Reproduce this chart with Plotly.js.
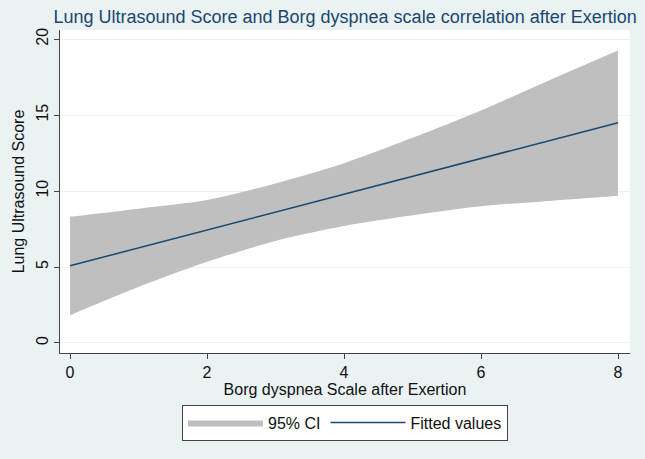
<!DOCTYPE html>
<html>
<head>
<meta charset="utf-8">
<script src="https://cdn.plot.ly/plotly-3.0.1.min.js"></script>
<style>
  html, body { margin: 0; padding: 0; background: #eaf2f3; }
  #chart { width: 645px; height: 459px; }
</style>
</head>
<body>
<div id="chart"></div>
<script>
const borg = [0, 1, 2, 3, 4, 5, 6, 7, 8];
const fitted = [5.08, 6.26, 7.43, 8.61, 9.79, 10.97, 12.14, 13.32, 14.5];
const ciUpper = [8.31, 8.84, 9.41, 10.5, 11.83, 13.5, 15.3, 17.3, 19.25];
const ciLower = [1.83, 3.68, 5.34, 6.72, 7.7, 8.4, 9.0, 9.35, 9.69];

const navy = "#1a476f";
const bandGray = "#bfbfbf";

// lower edge first (hidden), upper edge fills down to it
var lower = {
  x: borg,
  y: ciLower,
  type: "scatter",
  mode: "lines",
  line: { width: 0, color: bandGray, shape: "spline", smoothing: 0.8 },
  showlegend: false,
  hoverinfo: "skip",
};

var upper = {
  x: borg,
  y: ciUpper,
  type: "scatter",
  mode: "lines",
  fill: "tonexty",
  fillcolor: bandGray,
  line: { width: 0, color: bandGray, shape: "spline", smoothing: 0.8 },
  name: "95% CI",
  legendrank: 1,
  hoverinfo: "skip",
};

var fit = {
  x: borg,
  y: fitted,
  type: "scatter",
  mode: "lines",
  line: { color: navy, width: 1.5 },
  name: "Fitted values",
  legendrank: 2,
};

var layout = {
  width: 645,
  height: 459,
  margin: { l: 60, r: 15, t: 30, b: 106 },
  paper_bgcolor: "#eaf2f3",
  plot_bgcolor: "#ffffff",
  font: { family: "Liberation Sans, Arial, sans-serif", size: 16, color: "#111" },
  title: {
    text: "Lung Ultrasound Score and Borg dyspnea scale correlation after Exertion",
    font: { size: 18, color: navy },
    x: 0.535,
    xanchor: "center",
    y: 0.963,
    yanchor: "middle",
  },
  xaxis: {
    range: [-0.146, 8.175],
    tickvals: [0, 2, 4, 6, 8],
    showgrid: false,
    zeroline: false,
    showline: true,
    linecolor: "#444",
    linewidth: 1,
    ticks: "outside",
    ticklen: 5,
    tickcolor: "#444",
    tickfont: { size: 16 },
    title: { text: "Borg dyspnea Scale after Exertion", font: { size: 16 }, standoff: 2 },
    fixedrange: true,
  },
  yaxis: {
    range: [-0.66, 20.6],
    tickvals: [0, 5, 10, 15, 20],
    tickangle: -90,
    showgrid: true,
    gridcolor: "#eaf2f3",
    gridwidth: 1,
    zeroline: false,
    showline: true,
    linecolor: "#444",
    linewidth: 1,
    ticks: "outside",
    ticklen: 5,
    tickcolor: "#444",
    tickfont: { size: 16 },
    title: { text: "Lung Ultrasound Score", font: { size: 16 }, standoff: 4 },
    fixedrange: true,
  },
  showlegend: true,
  legend: {
    orientation: "h",
    traceorder: "normal",
    x: 0.5,
    xanchor: "center",
    y: -0.16,
    yanchor: "top",
    bgcolor: "#ffffff",
    bordercolor: "#444",
    borderwidth: 1,
    font: { size: 16 },
    itemwidth: 75,
  },
};

var config = { displayModeBar: false, staticPlot: true };

Plotly.newPlot(document.getElementById("chart"), [lower, upper, fit], layout, config);
</script>
</body>
</html>
